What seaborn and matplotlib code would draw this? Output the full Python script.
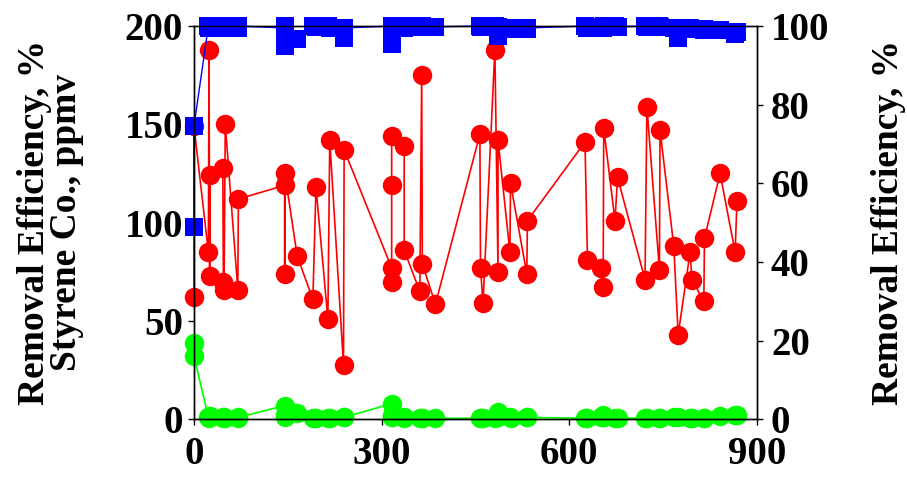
import matplotlib
matplotlib.use("Agg")
import matplotlib.pyplot as plt
import seaborn as sns
import pandas as pd

# Operation time (days) for each sampling event
time_d = [0, 0, 23, 24, 25, 26, 46, 47, 48, 50, 70, 71,
          145, 145, 145, 165, 190, 195, 214, 217, 239, 240,
          316, 316, 316, 316, 336, 336, 361, 364, 365, 386,
          457, 458, 462, 481, 486, 486, 505, 506, 532, 533,
          625, 629, 650, 654, 655, 673, 677, 721, 724, 744, 745,
          767, 774, 793, 796, 815, 816, 841, 865, 868]

# Inlet styrene concentration (ppmv)
inlet_ppmv = [62, 149, 85, 188, 73, 124, 128, 70, 66, 150, 66, 112,
              119, 74, 125.5, 83, 61, 118, 51, 142, 27.5, 137,
              77, 70, 119, 144, 139, 86, 65, 175, 79, 58.5,
              145, 77, 59, 188, 75, 142, 85, 120, 74, 101,
              141, 81, 77, 67.5, 148, 101, 123, 71, 159, 76, 147,
              88, 43, 85, 71, 60, 92, 125, 85, 111]

# Outlet styrene concentration (ppmv)
outlet_ppmv = [38.6, 32.2, 1, 0.8, 1.5, 1, 1, 0.8, 1, 0.8, 0.8, 1,
               7, 1, 2, 3, 0.8, 0.5, 0.5, 0.8, 1, 1,
               8, 1, 2, 1, 1, 0.5, 0.5, 0.5, 0.8, 0.5,
               0.5, 0.5, 0.8, 0.5, 3.9, 1, 1, 0.8, 1.3, 1,
               0.5, 0.5, 1, 2.2, 1, 0.5, 0.8, 0.5, 0.5, 0.5, 0.5,
               1.3, 1.3, 0.5, 0.5, 0.5, 0.8, 1.7, 2.2, 2]

# Removal efficiency (%)
removal_pct = [48.8, 74.6, 100, 99.5, 100, 99.8, 99.5, 100, 99.5, 99.8, 99.5, 100,
               99.5, 95, 100, 96.8, 100, 99.8, 100, 99.5, 97, 99.5,
               100, 95.5, 99.8, 100, 100, 99.5, 100, 99.8, 100, 99.8,
               100, 99.8, 100, 100, 97.5, 99.8, 99.5, 99.2, 99.2, 99.5,
               100, 99.5, 99.8, 99.5, 100, 100, 99.8, 100, 99.8, 100, 99.8,
               99.5, 97, 99.5, 99.2, 99.2, 99, 99, 97.9, 98.5]

x_ticks = [0, 300, 600, 900]
left_ticks = [0, 50, 100, 150, 200]
right_ticks = [0, 20, 40, 60, 80, 100]

df = pd.DataFrame({"t": time_d, "inlet": inlet_ppmv,
                   "outlet": outlet_ppmv, "eff": removal_pct})

sns.set_style("ticks")
plt.rcParams["font.family"] = ["Liberation Serif", "DejaVu Serif"]
plt.rcParams["font.weight"] = "bold"
for key in ("text.color", "axes.labelcolor", "xtick.color", "ytick.color",
            "axes.edgecolor"):
    plt.rcParams[key] = "black"

W, H = 907, 482
fig = plt.figure(figsize=(W / 100, H / 100), dpi=100)
x0, x1, ytop, ybot = 194, 757, 26, 419.3
ax = fig.add_axes([x0 / W, 1 - ybot / H, (x1 - x0) / W, (ybot - ytop) / H])
ax2 = ax.twinx()

common = dict(estimator=None, sort=False, legend=False, markeredgewidth=0,
              clip_on=False)
sns.lineplot(data=df, x="t", y="inlet", ax=ax, color="#ff0000", marker="o",
             markersize=14, linewidth=1.2, **common)
sns.lineplot(data=df, x="t", y="outlet", ax=ax, color="#00ff00", marker="o",
             markersize=14, linewidth=1.2, **common)
sns.lineplot(data=df, x="t", y="eff", ax=ax2, color="#0000ff", marker="s",
             markersize=13, linewidth=1.0, **common)

ax.set_xlim(0, 900)
ax.set_ylim(0, 200)
ax2.set_ylim(0, 100)
ax.set_xticks(x_ticks)
ax.set_yticks(left_ticks)
ax2.set_yticks(right_ticks)

tick_fs = 28
label_fs = 27
for a in (ax, ax2):
    for s in a.spines.values():
        s.set_linewidth(1.0)
        s.set_color("black")
    a.tick_params(direction="out", length=4, width=1, labelsize=tick_fs, pad=4,
                  colors="black")
    for lab in a.get_xticklabels() + a.get_yticklabels():
        lab.set_fontweight("bold")
ax2.tick_params(axis="y", pad=6)
ax.tick_params(axis="x", pad=8)

ax.set_xlabel("")
ax.set_ylabel("Removal Efficiency, %\nStyrene Co., ppmv", fontsize=label_fs,
              fontweight="bold", linespacing=0.9, color="black")
ax.yaxis.set_label_coords(-0.195, 0.5)
ax2.set_ylabel("Removal Efficiency, %", fontsize=label_fs, fontweight="bold",
               color="black")
ax2.yaxis.set_label_coords(1.203, 0.5)

fig.savefig("out.png", dpi=100)
